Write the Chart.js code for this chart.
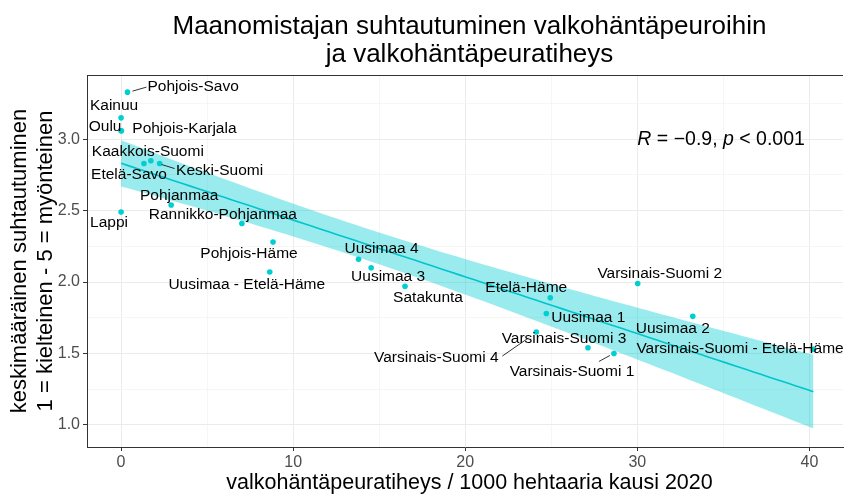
<!DOCTYPE html>
<html>
<head>
<meta charset="utf-8">
<script src="https://cdn.jsdelivr.net/npm/chart.js@4.4.0/dist/chart.umd.min.js"></script>
<style>
  html, body { margin: 0; padding: 0; background: #fff; }
  #wrap { width: 847px; height: 495px; }
</style>
</head>
<body>
<div id="wrap"><canvas id="chart" width="847" height="495"></canvas></div>
<script>
// alueet, peuratiheys (x) ja keskimaarainen suhtautuminen (y)
var regions = [
    "Pohjois-Savo", "Kainuu", "Oulu", "Pohjois-Karjala", "Kaakkois-Suomi",
    "Etelä-Savo", "Keski-Suomi", "Pohjanmaa", "Lappi", "Rannikko-Pohjanmaa",
    "Pohjois-Häme", "Uusimaa - Etelä-Häme", "Uusimaa 4", "Uusimaa 3", "Satakunta",
    "Etelä-Häme", "Uusimaa 1", "Varsinais-Suomi 4", "Varsinais-Suomi 3", "Varsinais-Suomi 1",
    "Varsinais-Suomi 2", "Uusimaa 2", "Varsinais-Suomi - Etelä-Häme"
];
var density = [
    0.37, 0.0, 0.0, 0.02, 1.73,
    1.33, 2.24, 2.91, 0.0, 7.02,
    8.83, 8.64, 13.80, 14.53, 16.50,
    24.94, 24.71, 24.13, 27.13, 28.64,
    30.02, 33.22, 40.23
];
var attitude = [
    3.33, 3.15, 3.06, 3.06, 2.85,
    2.83, 2.83, 2.54, 2.49, 2.41,
    2.28, 2.07, 2.16, 2.10, 1.97,
    1.89, 1.78, 1.65, 1.54, 1.50,
    1.99, 1.76, 1.53
];
var xTicks = [0, 10, 20, 30, 40];
var yTicks = [1.0, 1.5, 2.0, 2.5, 3.0];

var titleLines = ["Maanomistajan suhtautuminen valkohäntäpeuroihin", "ja valkohäntäpeuratiheys"];
var xTitle = "valkohäntäpeuratiheys / 1000 hehtaaria kausi 2020";
var yTitle = ["keskimääräinen suhtautuminen", "1 = kielteinen - 5 = myönteinen"];

// label placement in pixels from the point, like ggrepel: [dx, dy, align]
var labelOffsets = [
    [20, -5, "left"], [-7, -12, "center"], [-16, -4, "center"], [63, -2, "center"], [-3, -9, "center"],
    [-15, 11, "center"], [60, 7, "center"], [8, -9, "center"], [-12, 11, "center"], [-19, -9, "center"],
    [-24, 12, "center"], [-23, 13, "center"], [23, -10, "center"], [17, 9, "center"], [23, 11, "center"],
    [-24, -10, "center"], [42, 4, "center"], [-100, 26, "center"], [-24, -9, "center"], [-42, 18, "center"],
    [22, -10, "center"], [-20, 12, "center"], [-177, 0, "left"]
];
// segments from point towards its label: index -> [x0, y0, x1, y1]
var leaders = {
    0: [5, -1, 19, -5],
    6: [2, 1, 15, 5],
    17: [-8, 6, -34, 24],
    19: [-4, 2, -15, 8]
};

var FONT = "'Liberation Sans', Arial, sans-serif";
var TEAL = "#00CED1";

// linear fit + 95% confidence band (same as geom_smooth(method = "lm"))
var n = density.length;
var mx = 0, my = 0;
for (var i = 0; i < n; i++) { mx += density[i]; my += attitude[i]; }
mx /= n; my /= n;
var sxx = 0, sxy = 0;
for (var i = 0; i < n; i++) {
    sxx += (density[i] - mx) * (density[i] - mx);
    sxy += (density[i] - mx) * (attitude[i] - my);
}
var slope = sxy / sxx;
var icpt = my - slope * mx;
var sse = 0;
for (var i = 0; i < n; i++) {
    var r = attitude[i] - (icpt + slope * density[i]);
    sse += r * r;
}
var se = Math.sqrt(sse / (n - 2));
var tq = 2.0796; // t(0.975, df = 21)

var xmin = Math.min.apply(null, density), xmax = Math.max.apply(null, density);
var fitLine = [], bandUp = [], bandLo = [];
for (var k = 0; k <= 80; k++) {
    var xv = xmin + (xmax - xmin) * k / 80;
    var yh = icpt + slope * xv;
    var w = tq * se * Math.sqrt(1 / n + (xv - mx) * (xv - mx) / sxx);
    fitLine.push({x: xv, y: yh});
    bandUp.push({x: xv, y: yh + w});
    bandLo.push({x: xv, y: yh - w});
}

var points = [];
for (var i = 0; i < n; i++) points.push({x: density[i], y: attitude[i]});

function withMinor(major) {
    var out = [];
    var step = major[1] - major[0];
    for (var j = 0; j < major.length; j++) {
        out.push({value: major[j], major: true});
        out.push({value: major[j] + step / 2, major: false});
    }
    return out;
}
function isMajor(list, v) {
    for (var j = 0; j < list.length; j++) if (Math.abs(list[j] - v) < 1e-9) return true;
    return false;
}

var textPlugin = {
    id: 'textPlugin',
    afterDatasetsDraw: function (chart) {
        var ctx = chart.ctx;
        var xs = chart.scales.x, ys = chart.scales.y;
        ctx.save();
        ctx.font = "15.5px " + FONT;
        ctx.fillStyle = "#000";
        ctx.strokeStyle = "#000";
        ctx.lineWidth = 0.8;
        ctx.textBaseline = "middle";
        for (var i = 0; i < n; i++) {
            var px = xs.getPixelForValue(density[i]);
            var py = ys.getPixelForValue(attitude[i]);
            var o = labelOffsets[i];
            if (leaders[i]) {
                var l = leaders[i];
                ctx.beginPath();
                ctx.moveTo(px + l[0], py + l[1]);
                ctx.lineTo(px + l[2], py + l[3]);
                ctx.stroke();
            }
            ctx.textAlign = o[2];
            ctx.fillText(regions[i], px + o[0], py + o[1]);
        }
        ctx.restore();
    },
    afterDraw: function (chart) {
        var ctx = chart.ctx;
        var area = chart.chartArea;
        var xs = chart.scales.x, ys = chart.scales.y;
        ctx.save();
        // top border of panel
        ctx.strokeStyle = "#333333";
        ctx.lineWidth = 1;
        ctx.beginPath();
        ctx.moveTo(area.left, area.top + 0.5);
        ctx.lineTo(area.right, area.top + 0.5);
        ctx.stroke();

        // R annotation
        var ax = xs.getPixelForValue(30), ay = ys.getPixelForValue(3.0);
        var parts = [["R", true], [" = \u22120.9, ", false], ["p", true], [" < 0.001", false]];
        ctx.fillStyle = "#000";
        ctx.textAlign = "left";
        ctx.textBaseline = "middle";
        for (var j = 0; j < parts.length; j++) {
            ctx.font = (parts[j][1] ? "italic " : "") + "19.5px " + FONT;
            ctx.fillText(parts[j][0], ax, ay);
            ax += ctx.measureText(parts[j][0]).width;
        }

        // titles
        var cx = 469.5;
        ctx.font = "26px " + FONT;
        ctx.textAlign = "center";
        ctx.fillText(titleLines[0], cx, 27);
        ctx.fillText(titleLines[1], cx, 55);

        ctx.font = "21.5px " + FONT;
        ctx.fillText(xTitle, cx, 483);

        ctx.font = "22px " + FONT;
        ctx.translate(0, (area.top + area.bottom) / 2);
        ctx.rotate(-Math.PI / 2);
        ctx.fillText(yTitle[0], 0, 20);
        ctx.fillText(yTitle[1], 0, 46);
        ctx.restore();
    }
};

var chart = new Chart(document.getElementById('chart'), {
    type: 'scatter',
    data: {
        datasets: [
            {
                label: 'alueet',
                data: points,
                backgroundColor: TEAL,
                borderColor: TEAL,
                pointRadius: 2.8,
                borderWidth: 0,
                order: 0
            },
            {
                label: 'fit',
                type: 'line',
                data: fitLine,
                borderColor: "#00C5CD",
                borderWidth: 1.6,
                pointRadius: 0,
                fill: false,
                order: 1
            },
            {
                label: 'upper',
                type: 'line',
                data: bandUp,
                borderWidth: 0,
                borderColor: 'rgba(0,0,0,0)',
                pointRadius: 0,
                backgroundColor: 'rgba(0,206,209,0.4)',
                fill: '+1',
                order: 2
            },
            {
                label: 'lower',
                type: 'line',
                data: bandLo,
                borderWidth: 0,
                borderColor: 'rgba(0,0,0,0)',
                pointRadius: 0,
                fill: false,
                order: 3
            }
        ]
    },
    options: {
        responsive: false,
        animation: false,
        devicePixelRatio: 1,
        layout: { padding: { top: 75, left: 0, right: 0, bottom: 0 } },
        plugins: {
            legend: { display: false },
            tooltip: { enabled: false },
            title: { display: false }
        },
        scales: {
            x: {
                type: 'linear',
                min: -1.98,
                max: 41.95,
                afterFit: function (scale) { scale.height = 48; },
                afterBuildTicks: function (scale) { scale.ticks = withMinor(xTicks).filter(function (t) { return t.value <= 41.95; }); },
                grid: {
                    color: function (c) { return isMajor(xTicks, c.tick.value) ? "#EBEBEB" : "#F4F4F4"; },
                    lineWidth: function (c) { return isMajor(xTicks, c.tick.value) ? 1 : 0.8; },
                    tickColor: function (c) { return isMajor(xTicks, c.tick.value) ? "#333333" : "rgba(0,0,0,0)"; },
                    tickLength: 4
                },
                border: { display: true, color: "#333333", width: 1 },
                ticks: {
                    autoSkip: false,
                    maxRotation: 0,
                    padding: 2,
                    color: "#4D4D4D",
                    font: { family: FONT, size: 16 },
                    callback: function (v) { return isMajor(xTicks, v) ? String(v) : ""; }
                }
            },
            y: {
                type: 'linear',
                min: 0.845,
                max: 3.45,
                afterFit: function (scale) { scale.width = 87; },
                afterBuildTicks: function (scale) { scale.ticks = withMinor(yTicks).filter(function (t) { return t.value <= 3.45; }); },
                grid: {
                    color: function (c) { return isMajor(yTicks, c.tick.value) ? "#EBEBEB" : "#F4F4F4"; },
                    lineWidth: function (c) { return isMajor(yTicks, c.tick.value) ? 1 : 0.8; },
                    tickColor: function (c) { return isMajor(yTicks, c.tick.value) ? "#333333" : "rgba(0,0,0,0)"; },
                    tickLength: 4
                },
                border: { display: true, color: "#333333", width: 1 },
                ticks: {
                    autoSkip: false,
                    padding: 3,
                    color: "#4D4D4D",
                    font: { family: FONT, size: 16 },
                    callback: function (v) { return isMajor(yTicks, v) ? v.toFixed(1) : ""; }
                }
            }
        }
    },
    plugins: [textPlugin]
});
</script>
</body>
</html>
